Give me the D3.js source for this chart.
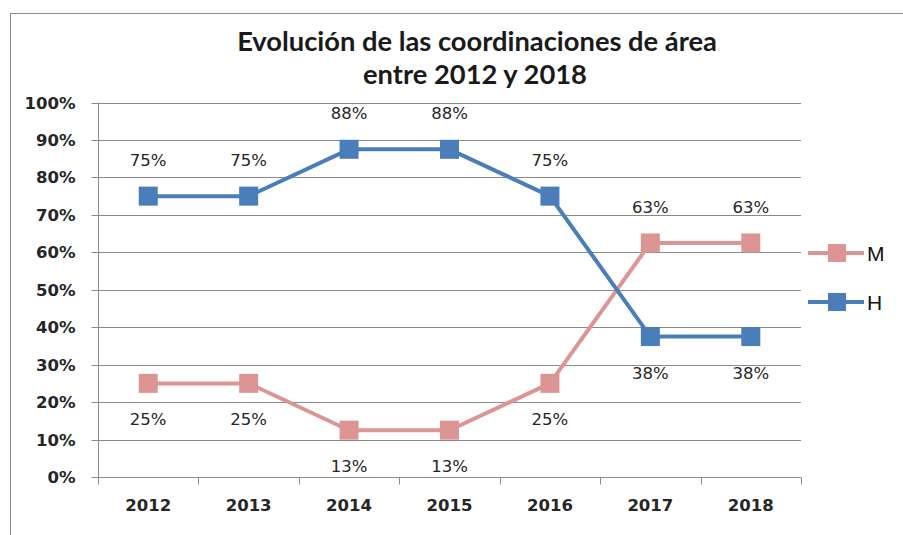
<!DOCTYPE html>
<html>
<head>
<meta charset="utf-8">
<script src="https://cdn.jsdelivr.net/npm/d3@7"></script>
<style>
  html, body { margin: 0; padding: 0; background: #fff; }
  svg { display: block; }
</style>
</head>
<body>
<svg id="chart" width="903" height="535"></svg>
<script>
// ---- data ----
const years = ["2012", "2013", "2014", "2015", "2016", "2017", "2018"];
const seriesNames = ["M", "H"];
const valuesM = [0.25, 0.25, 0.125, 0.125, 0.25, 0.625, 0.625];
const valuesH = [0.75, 0.75, 0.875, 0.875, 0.75, 0.375, 0.375];
// label placement: true = above the point
const aboveM = [false, false, false, false, false, true, true];
const aboveH = [true, true, true, true, true, false, false];
const yTicks = [0, 0.1, 0.2, 0.3, 0.4, 0.5, 0.6, 0.7, 0.8, 0.9, 1.0];
const titleLines = ["Evolución de las coordinaciones de área", "entre 2012 y 2018"];

const colors = { M: "#DD9594", H: "#4A7EBB" };

const svg = d3.select("#chart");
const W = 903, H = 535;

// outer chart border (only top & left visible)
svg.append("rect")
  .attr("x", 10.5).attr("y", 13.5)
  .attr("width", W + 20).attr("height", H + 20)
  .attr("fill", "#fff").attr("stroke", "#8c8c8c").attr("stroke-width", 1);

const plot = { left: 98, right: 801, top: 102.5, bottom: 477 };

const x = d3.scaleBand().domain(years).range([plot.left, plot.right]).padding(0);
const y = d3.scaleLinear().domain([0, 1]).range([plot.bottom, plot.top]);
const cx = d => x(d) + x.bandwidth() / 2;

// gridlines
svg.append("g").selectAll("line").data(yTicks.filter(t => t > 0)).join("line")
  .attr("x1", plot.left).attr("x2", plot.right)
  .attr("y1", d => Math.round(y(d)) + 0.5).attr("y2", d => Math.round(y(d)) + 0.5)
  .attr("stroke", "#8a8a8a").attr("stroke-width", 1);

// y axis
const yAxis = d3.axisLeft(y).tickValues(yTicks).tickFormat(d3.format(".0%")).tickSize(7).tickPadding(16);
const gy = svg.append("g").attr("transform", `translate(${plot.left + 0.5},0)`).call(yAxis);
gy.select(".domain").attr("stroke", "#8a8a8a").attr("d", `M0,${plot.top}V${plot.bottom}`);
gy.selectAll(".tick line").attr("stroke", "#8a8a8a");
gy.selectAll(".tick").attr("transform", d => `translate(0,${Math.round(y(d)) + 0.5})`);
gy.selectAll("text")
  .attr("font-family", "DejaVu Sans").attr("font-weight", "bold")
  .attr("font-size", "16.5px").attr("fill", "#262626");

// x axis
const xAxis = d3.axisBottom(x).tickSize(0).tickPadding(22);
const gx = svg.append("g").attr("transform", `translate(0,${Math.round(plot.bottom) + 0.5})`).call(xAxis);
gx.select(".domain").attr("stroke", "#8a8a8a").attr("d", `M${plot.left},0H${plot.right}`);
gx.selectAll("text")
  .attr("font-family", "DejaVu Sans").attr("font-weight", "bold")
  .attr("font-size", "16.5px").attr("fill", "#262626");
// category boundary ticks
const bounds = years.map(d => x(d)).concat([x.range()[1]]);
gx.append("g").selectAll("line").data(bounds).join("line")
  .attr("x1", d => Math.round(d) + 0.5).attr("x2", d => Math.round(d) + 0.5)
  .attr("y1", 0).attr("y2", 7)
  .attr("stroke", "#8a8a8a");

// series
const series = [
  { name: "M", values: valuesM, above: aboveM },
  { name: "H", values: valuesH, above: aboveH }
];
const line = d3.line().x((d, i) => cx(years[i])).y(d => y(d));
const ms = 19;

series.forEach(s => {
  const g = svg.append("g");
  g.append("path").datum(s.values)
    .attr("d", line).attr("fill", "none")
    .attr("stroke", colors[s.name]).attr("stroke-width", 4).attr("stroke-linejoin", "round");
  g.selectAll("rect").data(s.values).join("rect")
    .attr("x", (d, i) => cx(years[i]) - ms / 2)
    .attr("y", d => y(d) - ms / 2)
    .attr("width", ms).attr("height", ms)
    .attr("fill", colors[s.name]);
  g.selectAll("text").data(s.values).join("text")
    .attr("x", (d, i) => cx(years[i]))
    .attr("y", (d, i) => s.above[i] ? y(d) - 30 : y(d) + 42)
    .attr("text-anchor", "middle")
    .attr("font-family", "DejaVu Sans").attr("font-size", "16.5px").attr("fill", "#262626")
    .text(d => Math.round(d * 100) + "%");
});

// legend
const legendY = { M: 253, H: 302 };
seriesNames.forEach(n => {
  const g = svg.append("g").attr("transform", `translate(0,${legendY[n]})`);
  g.append("line").attr("x1", 808).attr("x2", 864).attr("y1", 0).attr("y2", 0)
    .attr("stroke", colors[n]).attr("stroke-width", 4);
  g.append("rect").attr("x", 837 - 9).attr("y", -9).attr("width", 18).attr("height", 18)
    .attr("fill", colors[n]);
  g.append("text").attr("x", 867).attr("y", 0).attr("dy", "0.36em")
    .attr("font-family", "Liberation Sans, Arial, sans-serif").attr("font-size", "21px").attr("fill", "#111")
    .text(n);
});

// title
const title = svg.append("g");
const t1 = title.append("text").attr("x", 477).attr("y", 51).attr("text-anchor", "middle")
  .attr("font-family", "Lato").attr("font-weight", "bold").attr("font-size", "22px").attr("fill", "#1a1a1a")
  .text(titleLines[0]);
const w1 = t1.node().getComputedTextLength();
const fs = 22 * 480 / w1;
t1.attr("font-size", fs + "px");
title.append("text").attr("x", 475).attr("y", 84).attr("text-anchor", "middle")
  .attr("font-family", "Lato").attr("font-weight", "bold").attr("font-size", fs + "px").attr("fill", "#1a1a1a")
  .text(titleLines[1]);
</script>
</body>
</html>
